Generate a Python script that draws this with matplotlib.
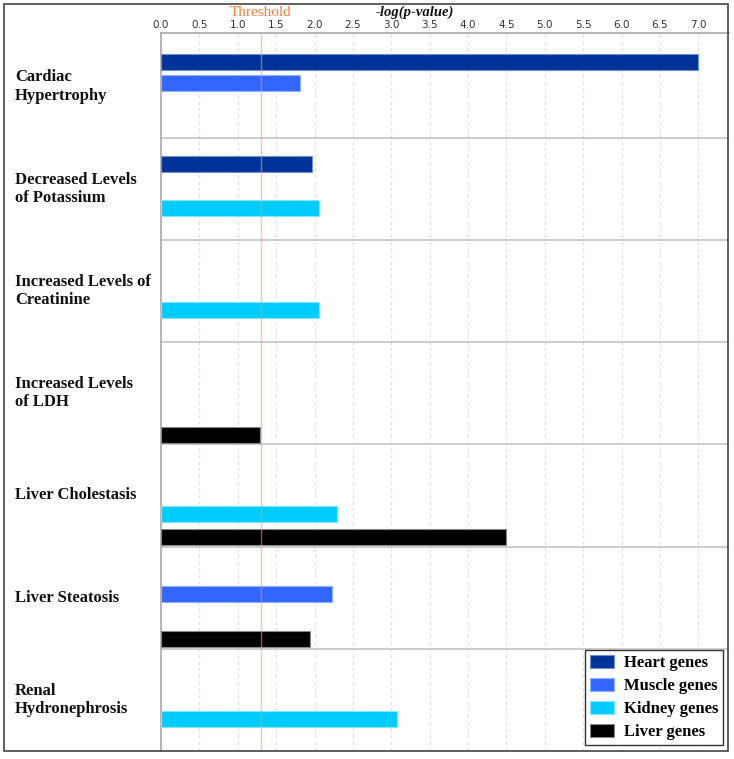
import numpy as np
import matplotlib
matplotlib.use("Agg")
import matplotlib.pyplot as plt
from matplotlib.patches import Rectangle

nan = np.nan
categories = ["Cardiac\nHypertrophy", "Decreased Levels\nof Potassium",
              "Increased Levels of\nCreatinine", "Increased Levels\nof LDH",
              "Liver Cholestasis", "Liver Steatosis", "Renal\nHydronephrosis"]
series_names = ["Heart genes", "Muscle genes", "Kidney genes", "Liver genes"]
heart = [7.0, 1.97, nan, nan, nan, nan, nan]
muscle = [1.81, nan, nan, nan, nan, 2.23, nan]
kidney = [nan, 2.06, 2.06, nan, 2.29, nan, 3.08]
liver = [nan, nan, nan, 1.29, 4.49, 1.94, nan]
threshold = 1.3
x_ticks = [0.0, 0.5, 1.0, 1.5, 2.0, 2.5, 3.0, 3.5, 4.0, 4.5, 5.0, 5.5, 6.0, 6.5, 7.0]

colors = ["#003399", "#3366ff", "#00ccff", "#000000"]
edges = ["#6f8fd0", "#8fb0ff", "#80e6ff", "#888888"]
offsets = [0.255, 0.465, 0.685, 0.908]
bar_h = 0.156

W, H = 734, 759
fig = plt.figure(figsize=(W / 100, H / 100), dpi=100)
ax = fig.add_axes([161 / W, 1 - 751 / H, (729 - 161) / W, (751 - 33) / H])

n = len(categories)
group_top = np.arange(n)
handles = []
for vals, c, ec, off, name in zip([heart, muscle, kidney, liver], colors, edges, offsets, series_names):
    b = ax.barh(group_top + off, vals, height=bar_h, color=c, edgecolor=ec,
                linewidth=0.8, label=name, zorder=3)
    handles.append(b)

ax.set_xlim(0, 7.40)
ax.set_ylim(n, -0.025)

# grid
for t in x_ticks[1:]:
    ax.axvline(t, color="#dcdcdc", lw=0.8, ls=(0, (3, 3)), zorder=1)
# separators
for i in range(1, n):
    ax.axhline(i, color="#cccccc", lw=1.4, zorder=2)
# threshold
ax.axvline(threshold, color="#f0a060", lw=1.0, alpha=0.6, zorder=4)

ax.xaxis.tick_top()
ax.set_xticks(x_ticks)
ax.set_xticklabels([f"{t:.1f}" for t in x_ticks], fontsize=7.5, color="#333333")
ax.tick_params(axis="x", length=0, pad=2.5)
ax.set_yticks([])
for s in ["top", "left"]:
    ax.spines[s].set_color("#a8a8a8")
    ax.spines[s].set_linewidth(1.2)
for s in ["right", "bottom"]:
    ax.spines[s].set_visible(False)

thr_y = 1 - 12.5 / H
ax.text(threshold, thr_y, "Threshold", transform=ax.get_xaxis_transform(),
        ha="center", va="center", fontsize=11, family="Liberation Serif", color="#f08040",
        clip_on=False)
ax.texts[-1].set_transform(matplotlib.transforms.blended_transform_factory(ax.transData, fig.transFigure))
fig.text(415 / W, 1 - 12 / H, "-log(p-value)", ha="center", va="center", fontsize=10.5,
         family="Liberation Serif", style="italic", weight="bold", color="#111111")

# category labels
for i, cat in enumerate(categories):
    ax.text(-146 / 76.7, i + 0.5, cat, ha="left", va="center", fontsize=12,
            family="Liberation Serif", weight="bold", color="#111111",
            linespacing=1.2, clip_on=False)

leg = ax.legend(handles=handles, loc="lower right", borderaxespad=0.35,
                prop={"family": "Liberation Serif", "weight": "bold", "size": 12},
                frameon=True, fancybox=False, edgecolor="#333333", framealpha=1,
                handlelength=1.45, handleheight=0.9, labelspacing=0.38, handletextpad=0.6,
                borderpad=0.3)
leg.get_frame().set_linewidth(1.0)
leg.set_zorder(10)

fig.patches.append(Rectangle((4 / W, 1 - 751 / H), (728 - 4) / W, (751 - 4) / H,
                             transform=fig.transFigure, fill=False, edgecolor="#444444",
                             lw=1.2, zorder=20))

fig.savefig("out.png", dpi=100)
